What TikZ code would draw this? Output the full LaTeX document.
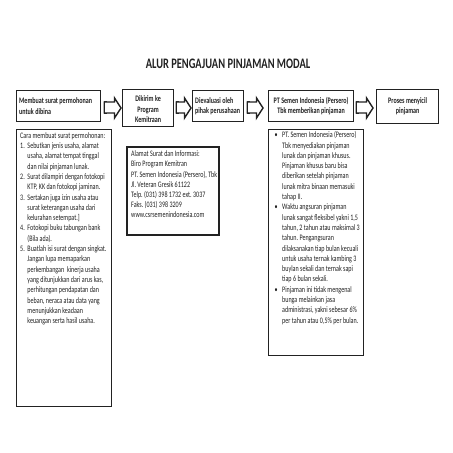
\documentclass[tikz,border=0pt]{standalone}
\usepackage{fontspec}
\setmainfont[FakeStretch=0.72]{Carlito}
\usetikzlibrary{calc}
\definecolor{ink}{HTML}{222222}
\newcommand\nitem[1]{\makebox[7.3bp][l]{#1}}
\newcommand\ncont{\hspace*{7.3bp}}
\newcommand\bitem{\makebox[8bp][l]{\hspace*{0.5bp}•}}
\newcommand\bcont{\hspace*{8bp}}
\newcommand\txtfont{\fontsize{8.4bp}{10.3bp}\selectfont\frenchspacing\spaceskip=1.4bp plus 0.6bp minus 0.3bp\relax}
\newcommand\blockarr[4]{%
  \fill[ink] let \p1=(#1.east), \p2=(#2.west) in
    ({\x1+#3bp},-101.3bp) rectangle ({\x1+#3bp+3bp},-113.7bp);
  \draw[arrowline] let \p1=(#1.east), \p2=(#2.west) in
    ({\x1+#3bp},-102bp) -- ({\x2-#4bp-6.5bp},-102bp) -- ({\x2-#4bp-6.5bp},-98bp)
    -- ({\x2-#4bp},-108bp) -- ({\x2-#4bp-6.5bp},-118bp) -- ({\x2-#4bp-6.5bp},-113bp)
    -- ({\x1+#3bp},-113bp) -- cycle;
}
\tikzset{
  box/.style={draw=ink, line width=1.2bp, inner sep=0pt, anchor=north west},
  boxtext/.style={inner sep=0pt, text=ink, font=\txtfont\bfseries},
  panel/.style={draw=ink, line width=1.2bp, inner sep=0pt, anchor=north west},
  bodytext/.style={inner sep=0pt, anchor=north west, align=flush left, text=ink,
    font=\txtfont},
  arrowline/.style={draw=ink, fill=white, line width=1.4bp, line join=miter},
}
\begin{document}
\begin{tikzpicture}[x=1bp,y=-1bp]
\fill[white] (0,0) rectangle (453,453);
\useasboundingbox (0,0) rectangle (453,453);

\node[font=\bfseries\fontsize{14.5bp}{17bp}\selectfont, text=ink, anchor=base, inner sep=0pt]
  (title) at (228,69) {ALUR PENGAJUAN PINJAMAN MODAL};

% top row boxes
\node[box, minimum width=84bp, minimum height=31bp] (b1) at (16,90) {};
\node[box, minimum width=51bp, minimum height=37bp] (b2) at (122,89) {};
\node[box, minimum width=51bp, minimum height=31bp] (b3) at (192,90) {};
\node[box, minimum width=85bp, minimum height=31bp] (b4) at (268,90) {};
\node[box, minimum width=62bp, minimum height=34bp] (b5) at (376,89) {};

\node[boxtext, anchor=west, align=flush left] (t1) at ($(b1.west)+(3,0)$) {Membuat surat permohonan\\untuk dibina};
\node[boxtext, align=flush center] (t2) at ($(b2.center)+(0,1)$) {Dikirim ke\\Program\\Kemitraan};
\node[boxtext, anchor=west, align=flush left] (t3) at ($(b3.west)+(3,0)$) {Dievaluasi oleh\\pihak perusahaan};
\node[boxtext, align=flush center] (t4) at (b4.center) {PT Semen Indonesia (Persero)\\Tbk memberikan pinjaman};
\node[boxtext, align=flush center] (t5) at (b5.center) {Proses menyicil\\pinjaman};

\blockarr{b1}{b2}{3}{1}
\blockarr{b2}{b3}{2}{1}
\blockarr{b3}{b4}{3}{5}
\blockarr{b4}{b5}{2}{3}

% lower panels
\node[panel, minimum width=95bp, minimum height=277bp] (lb) at (16,129) {};
\node[panel, line width=1.6bp, minimum width=92bp, minimum height=88bp] (ab) at (126,146) {};
\node[panel, minimum width=95bp, minimum height=226bp] (rb) at (268,129) {};

\node[bodytext, text width=110bp] (lt) at (20,130.8) {\strut Cara membuat surat permohonan:\\
\nitem{1.}Sebutkan jenis usaha, alamat\\
\ncont usaha, alamat tempat tinggal\\
\ncont dan nilai pinjaman lunak.\\
\nitem{2.}Surat dilampiri dengan fotokopi\\
\ncont KTP, KK dan fotokopi jaminan.\\
\nitem{3.}Sertakan juga izin usaha atau\\
\ncont surat keterangan usaha dari\\
\ncont kelurahan setempat.]\\
\nitem{4.}Fotokopi buku tabungan bank\\
\ncont (Bila ada).\\
\nitem{5.}Buatlah isi surat dengan singkat.\\
\ncont Jangan lupa memaparkan\\
\ncont perkembangan\ \ kinerja usaha\\
\ncont yang ditunjukkan dari arus kas,\\
\ncont perhitungan pendapatan dan\\
\ncont beban, neraca atau data yang\\
\ncont menunjukkan keadaan\\
\ncont keuangan serta hasil usaha.};

\node[bodytext, text width=110bp, font=\txtfont\fontsize{8.4bp}{10.2bp}\selectfont] (at) at (131,149.4) {\strut Alamat Surat dan Informasi:\\
Biro Program Kemitran\\
PT. Semen Indonesia (Persero), Tbk\\
Jl. Veteran Gresik 61122\\
Telp. (031) 398 1732 ext. 3037\\
Faks. (031) 398 3209\\
www.csrsemenindonesia.com};

\node[bodytext, text width=110bp] (rt) at (274,130.3) {\strut\bitem PT. Semen Indonesia (Persero)\\
\bcont Tbk menyediakan pinjaman\\
\bcont lunak dan pinjaman khusus.\\
\bcont Pinjaman khusus baru bisa\\
\bcont diberikan setelah pinjaman\\
\bcont lunak mitra binaan memasuki\\
\bcont tahap II.\\
\bitem Waktu angsuran pinjaman\\
\bcont lunak sangat fleksibel yakni 1,5\\
\bcont tahun, 2 tahun atau maksimal 3\\
\bcont tahun. Pengangsuran\\
\bcont dilaksanakan tiap bulan kecuali\\
\bcont untuk usaha ternak kambing 3\\
\bcont buylan sekali dan ternak sapi\\
\bcont tiap 6 bulan sekali.\\
\bitem Pinjaman ini tidak mengenal\\
\bcont bunga melainkan jasa\\
\bcont administrasi, yakni sebesar 6\%\\
\bcont per tahun atau 0,5\% per bulan.};
\end{tikzpicture}
\end{document}
